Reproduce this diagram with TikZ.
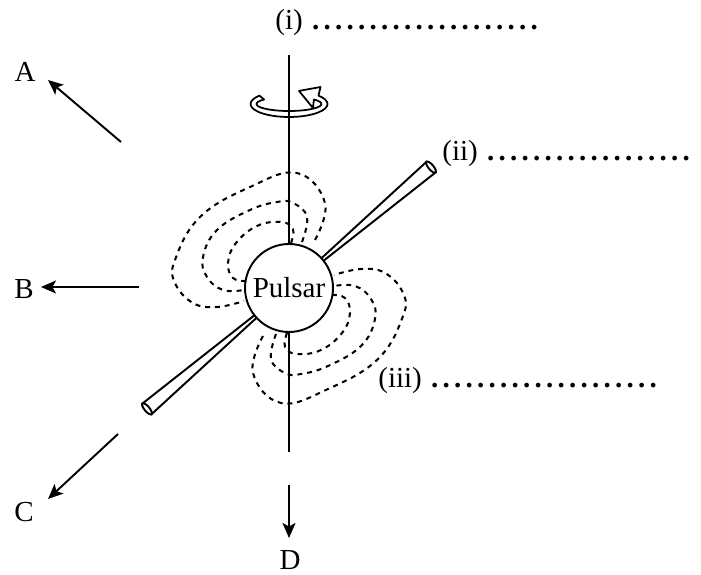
\documentclass[tikz,border=0pt]{standalone}
\usepackage{fontspec}
\setmainfont{Liberation Serif}
\usetikzlibrary{arrows.meta}

% row of n answer dots
\newcommand{\dotrow}[1]{\foreach \k in {1,...,#1}{\makebox[0.23cm]{\textbf{.}}}}

\begin{document}
\begin{tikzpicture}[
    lbl/.style = {
        font       = \fontsize{16.5}{19}\selectfont,
        inner sep  = 0pt
    },
    ans/.style = {
        lbl,
        anchor     = west
    },
    dirarrow/.style = {
        line width = 1.1pt,
        -{Stealth[length=3mm, width=2.6mm, inset=0.7mm]}
    },
    fieldline/.style = {
        line width   = 1.15pt,
        dash pattern = on 2.8pt off 2.8pt
    },
    beam/.style = {
        line width = 1.1pt,
        fill       = white
    },
    star/.style = {
        circle, draw, fill = white,
        line width   = 1.1pt,
        minimum size = 1.76cm,
        inner sep    = 0pt,
        font         = \fontsize{16.5}{19}\selectfont
    }
]

\useasboundingbox (0,0) rectangle (14.02,11.48);

% ================================================================
%  EJE DE ROTACION + SIMBOLO DE GIRO
% ================================================================

\coordinate (P)     at (5.78, 5.72);
\coordinate (axtop) at (5.78, 10.38);
\coordinate (axbot) at (5.78, 2.44);
\draw[line width=1.1pt] (axtop) -- (axbot);

\coordinate (spin) at (5.78, 9.40);
\begin{scope}[shift={(spin)}]
    \draw[line width=1pt, line join=round]
        (140:0.77 and 0.26)
        arc[start angle=140, end angle=400, x radius=0.77, y radius=0.26]
        -- (0.630, 0.340) -- (0.200, 0.262) -- (0.480, -0.080)
        -- (40:0.65 and 0.14)
        arc[start angle=40, end angle=-220, x radius=0.65, y radius=0.14]
        -- cycle;
\end{scope}

% ================================================================
%  HACES (conos) a 40.4 grados
% ================================================================

\foreach \ang in {40.4, 220.4}{
    \begin{scope}[shift={(P)}, rotate=\ang]
        \draw[beam] (0,0) -- (3.73, 0.14) -- (3.73, -0.14) -- cycle;
        \draw[beam] (3.73, 0) ellipse [x radius=0.05, y radius=0.14];
    \end{scope}
}

% ================================================================
%  LINEAS DE CAMPO (tres lazos, repetidos girados 180)
% ================================================================

\foreach \rot in {0, 180}{
    \begin{scope}[shift={(P)}, rotate=\rot]
        % lazo exterior
        \draw[fieldline] plot[smooth, tension=0.7] coordinates {
            (0.52, 0.96) (0.72, 1.70) (0.16, 2.30) (-0.78, 2.02)
            (-1.78, 1.42) (-2.28, 0.56) (-2.28, 0.10) (-1.92, -0.30)
            (-1.44, -0.38) (-0.90, -0.26)};
        % lazo medio
        \draw[fieldline] plot[smooth, tension=0.7] coordinates {
            (0.26, 0.92) (0.36, 1.42) (0.08, 1.70) (-0.24, 1.72)
            (-0.78, 1.56) (-1.44, 1.16) (-1.72, 0.62) (-1.64, 0.22)
            (-1.32, -0.04) (-0.90, -0.04)};
        % lazo interior
        \draw[fieldline] plot[smooth, tension=0.7] coordinates {
            (0.04, 0.90) (0.08, 1.18) (-0.16, 1.32) (-0.64, 1.24)
            (-1.06, 0.90) (-1.22, 0.50) (-1.12, 0.20) (-0.88, 0.14)};
    \end{scope}
}

\node[star] (pulsar) at (P) {Pulsar};

% ================================================================
%  DIRECCIONES DE OBSERVACION A--D
% ================================================================

\coordinate (tailA) at (2.42, 8.64);
\coordinate (tipA)  at (0.96, 9.88);
\coordinate (tailB) at (2.78, 5.74);
\coordinate (tipB)  at (0.82, 5.74);
\coordinate (tailC) at (2.36, 2.80);
\coordinate (tipC)  at (0.96, 1.50);
\coordinate (tailD) at (5.78, 1.78);
\coordinate (tipD)  at (5.78, 0.72);

\foreach \d in {A, B, C, D}{
    \draw[dirarrow] (tail\d) -- (tip\d);
}

\node[lbl] (A) at (0.50, 10.04) {A};
\node[lbl] (B) at (0.48, 5.70)  {B};
\node[lbl] (C) at (0.48, 1.24)  {C};
\node[lbl] (D) at (5.80, 0.28)  {D};

% ================================================================
%  RESPUESTAS (i)--(iii)
% ================================================================

\node[ans] (lbli)   at (5.50, 11.02) {(i)~\dotrow{20}};
\node[ans] (lblii)  at (8.84, 8.40)  {(ii)~\dotrow{18}};
\node[ans] (lbliii) at (7.56, 3.86)  {(iii)~\dotrow{20}};

\end{tikzpicture}
\end{document}
